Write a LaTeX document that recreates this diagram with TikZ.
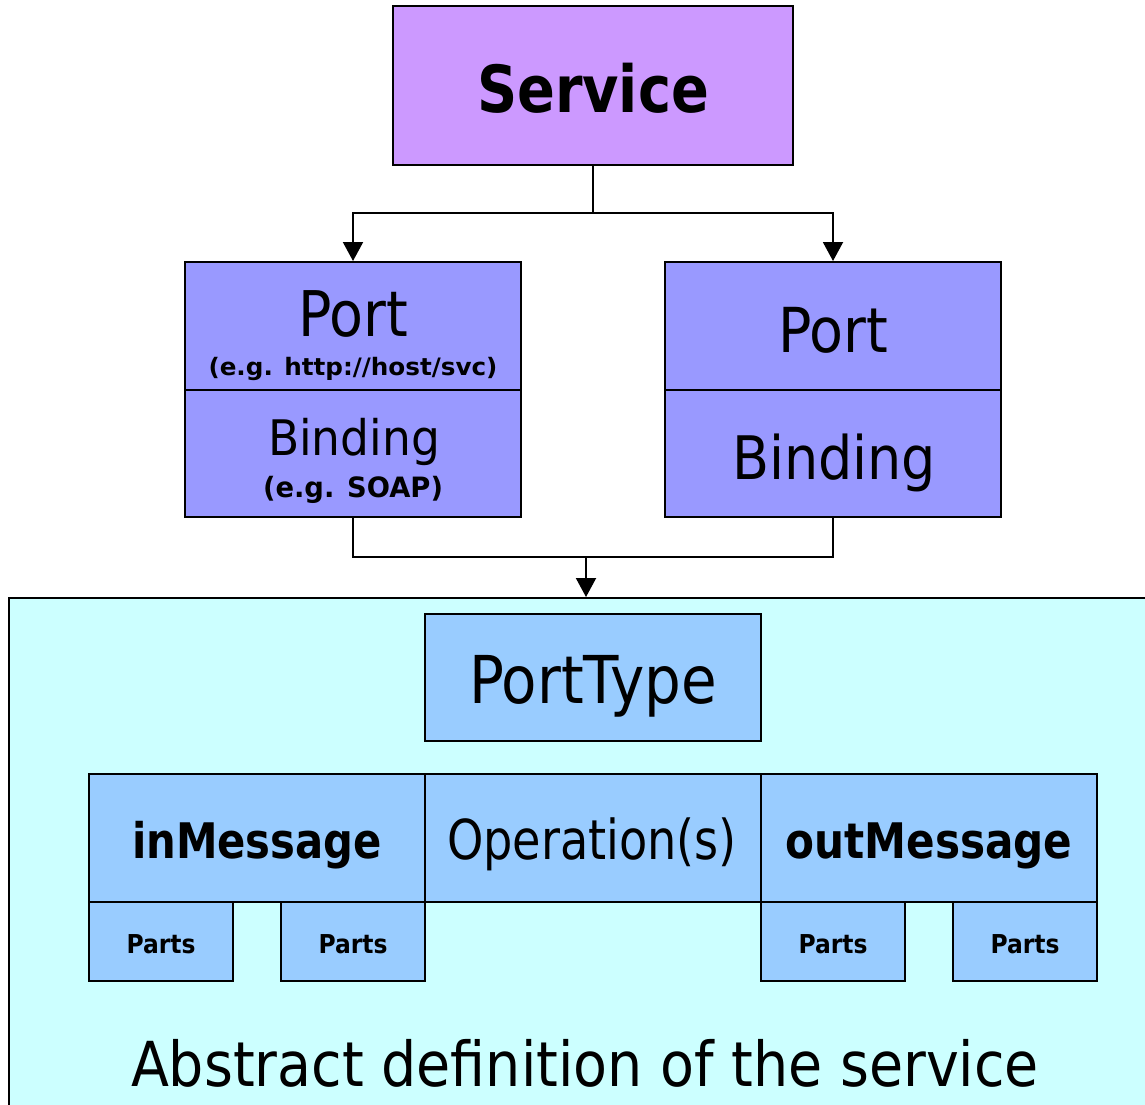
\documentclass[tikz,border=0pt]{standalone}
\usepackage{fontspec}
\usepackage{graphicx}
\setmainfont{DejaVu Sans}
\usetikzlibrary{arrows.meta}

\definecolor{svcfill}{HTML}{CC99FF}
\definecolor{portfill}{HTML}{9999FF}
\definecolor{absfill}{HTML}{CCFFFF}
\definecolor{typefill}{HTML}{99CCFF}

% set text at a given size, squeezed horizontally to a given width
\newsavebox\fitbox
\newcommand\fittext[3]{%
  \sbox\fitbox{\fontsize{#1}{#1}\selectfont #3}%
  \pgfmathsetmacro\fitratio{#2/\the\wd\fitbox}%
  \scalebox{\fitratio}[1]{\usebox\fitbox}}

\tikzset{
  box/.style={draw=black, line width=2pt, rectangle, inner sep=0pt},
  lbl/.style={anchor=base, inner sep=0pt, outer sep=0pt},
  line/.style={draw=black, line width=2pt},
  arr/.style={line, -{Triangle[width=20pt,length=19pt]}},
}

\begin{document}
\begin{tikzpicture}[x=1pt, y=-1pt]
\useasboundingbox (0,0) rectangle (1145,1104);
\clip (0,0) rectangle (1145,1104);

% abstract part of the service
\node[box, fill=absfill, minimum width=1151pt, minimum height=522pt] (abstract) at (584.5,859) {};

% concrete part
\node[box, fill=svcfill, minimum width=400pt, minimum height=159pt] (service) at (593,85.5) {};
\node[box, fill=portfill, minimum width=336pt, minimum height=128pt] (port1) at (353,326) {};
\node[box, fill=portfill, minimum width=336pt, minimum height=127pt] (bind1) at (353,453.5) {};
\node[box, fill=portfill, minimum width=336pt, minimum height=128pt] (port2) at (833,326) {};
\node[box, fill=portfill, minimum width=336pt, minimum height=127pt] (bind2) at (833,453.5) {};

% port type, operation and messages
\node[box, fill=typefill, minimum width=336pt, minimum height=127pt] (ptype) at (593,677.5) {};
\node[box, fill=typefill, minimum width=336pt, minimum height=128pt] (inmsg) at (257,838) {};
\node[box, fill=typefill, minimum width=336pt, minimum height=128pt] (oper) at (593,838) {};
\node[box, fill=typefill, minimum width=336pt, minimum height=128pt] (outmsg) at (929,838) {};
\node[box, fill=typefill, minimum width=144pt, minimum height=79pt] (partA) at (161,941.5) {};
\node[box, fill=typefill, minimum width=144pt, minimum height=79pt] (partB) at (353,941.5) {};
\node[box, fill=typefill, minimum width=144pt, minimum height=79pt] (partC) at (833,941.5) {};
\node[box, fill=typefill, minimum width=144pt, minimum height=79pt] (partD) at (1025,941.5) {};

% labels
\node[lbl] (tService) at (593,112) {\fittext{65}{232}{\bfseries Service}};
\node[lbl] (tPort1) at (353,336) {\fittext{63}{110}{Port}};
\node[lbl] (tPortEx) at (353,375) {\fittext{24}{289}{\bfseries (e.g. http://host/svc)}};
\node[lbl] (tBind1) at (354,455) {\fittext{49}{172}{Binding}};
\node[lbl] (tBindEx) at (353,497) {\fittext{28}{180}{\bfseries (e.g. SOAP)}};
\node[lbl] (tPort2) at (833,352) {\fittext{62}{110}{Port}};
\node[lbl] (tBind2) at (834,479) {\fittext{60}{204}{Binding}};
\node[lbl] (tType) at (593,703) {\fittext{66}{248}{PortType}};
\node[lbl] (tOper) at (592,859) {\fittext{55}{290}{Operation(s)}};
\node[lbl] (tIn) at (257,858) {\fittext{49}{250}{\bfseries inMessage}};
\node[lbl] (tOut) at (929,858) {\fittext{49}{287}{\bfseries outMessage}};
\node[lbl] (tPartA) at (161,953) {\fittext{26}{69}{\bfseries Parts}};
\node[lbl] (tPartB) at (353,953) {\fittext{26}{69}{\bfseries Parts}};
\node[lbl] (tPartC) at (833,953) {\fittext{26}{69}{\bfseries Parts}};
\node[lbl] (tPartD) at (1025,953) {\fittext{26}{69}{\bfseries Parts}};
\node[lbl] (tAbs) at (585,1086) {\fittext{62}{908}{Abstract definition of the service}};

% connectors
\coordinate (split) at (593,213);
\coordinate (merge) at (586,557);
\draw[line] (service.south) -- (split);
\draw[arr] (split) -| (port1.north);
\draw[arr] (split) -| (port2.north);
\draw[line] (bind1.south) |- (merge) -| (bind2.south);
\draw[arr] (merge) -- (merge |- abstract.north);
\end{tikzpicture}
\end{document}
